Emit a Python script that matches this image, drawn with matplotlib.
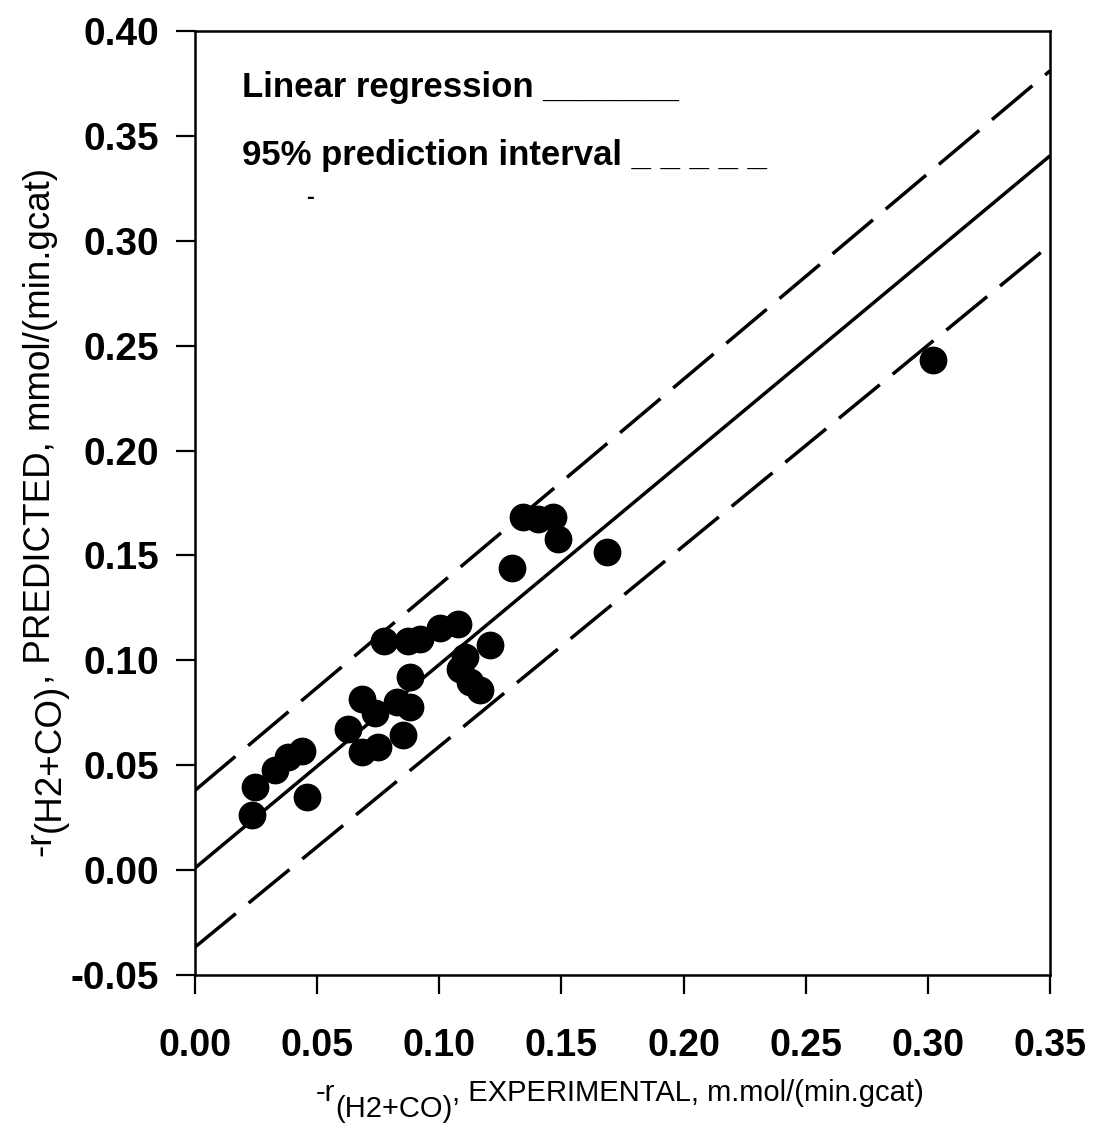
import matplotlib
matplotlib.use("Agg")
import matplotlib.pyplot as plt
import matplotlib.transforms as mtransforms
from matplotlib import font_manager
from matplotlib.font_manager import FontProperties

# Experimental vs predicted syngas consumption rate, mmol/(min.gcat)
experimental = [
    0.0232, 0.0246, 0.0327, 0.0380, 0.0438, 0.0457,
    0.0628, 0.0682, 0.0737, 0.0682, 0.0750, 0.0826, 0.0880, 0.0853,
    0.0774, 0.0873, 0.0921, 0.1003, 0.1078, 0.0880,
    0.1208, 0.1105, 0.1085, 0.1126, 0.1167,
    0.1298, 0.1344, 0.1405, 0.1467, 0.1487, 0.1685,
    0.3020,
]
predicted = [
    0.0262, 0.0397, 0.0477, 0.0540, 0.0567, 0.0349,
    0.0675, 0.0818, 0.0747, 0.0562, 0.0585, 0.0802, 0.0778, 0.0643,
    0.1093, 0.1093, 0.1104, 0.1152, 0.1175, 0.0921,
    0.1072, 0.1017, 0.0961, 0.0898, 0.0858,
    0.1440, 0.1684, 0.1675, 0.1684, 0.1580, 0.1517,
    0.2430,
]

# Fitted line and 95 % prediction band, evaluated at the ends of the x range
fit_x = [0.0, 0.35]
fit_y = [0.001, 0.3405]
band_upper = [0.038, 0.381]
band_lower = [-0.0367, 0.298]

x_ticks = [0.00, 0.05, 0.10, 0.15, 0.20, 0.25, 0.30, 0.35]
y_ticks = [-0.05, 0.00, 0.05, 0.10, 0.15, 0.20, 0.25, 0.30, 0.35, 0.40]
x_tick_labels = [f"{v:.2f}" for v in x_ticks]
y_tick_labels = [f"{v:.2f}" for v in y_ticks]


def pick_family(*names):
    for n in names:
        try:
            font_manager.findfont(FontProperties(family=n),
                                  fallback_to_default=False)
            return n
        except Exception:
            continue
    return "DejaVu Sans"


SANS = pick_family("Liberation Sans", "Arial", "DejaVu Sans")

W, H = 1093, 1131
fig = plt.figure(figsize=(W / 100, H / 100), dpi=100)
ax = fig.add_axes([195 / W, (H - 975) / H, 855 / W, 944 / H])

line_w = 2.5
ax.plot(fit_x, fit_y, color="black", lw=line_w, solid_capstyle="butt")
for band in (band_upper, band_lower):
    ax.plot(fit_x, band, color="black", lw=line_w,
            dashes=(38 / line_w, 12 / line_w), dash_capstyle="butt")
ax.plot(experimental, predicted, "o", color="black", ms=19, mec="black",
        clip_on=False, zorder=3)

ax.set_xlim(0.0, 0.35)
ax.set_ylim(-0.05, 0.40)
ax.set_xticks(x_ticks, x_tick_labels, fontsize=27, fontweight="bold",
              family=SANS)
ax.set_yticks(y_ticks, y_tick_labels, fontsize=28, fontweight="bold",
              family=SANS)
ax.tick_params(axis="both", direction="out", length=14, width=1.6,
               color="black")
ax.tick_params(axis="y", pad=12)
ax.tick_params(axis="x", pad=24)
for sp in ax.spines.values():
    sp.set_linewidth(1.8)

# Legend written as text with underscore rules
ax.text(0.055, 0.930, "Linear regression _______", transform=ax.transAxes,
        fontsize=25, fontweight="bold", family=SANS, va="baseline")
ax.text(0.055, 0.858, "95% prediction interval _ _ _ _ _",
        transform=ax.transAxes, fontsize=25, fontweight="bold", family=SANS,
        va="baseline")
ax.text(0.1345, 0.824, "-", transform=ax.transAxes, fontsize=17,
        fontweight="bold", family=SANS, ha="center", va="center")


def chained_label(pieces, fp, center, base, rotated, drop):
    """Write a label piece by piece; pieces flagged True sit lowered."""
    renderer = fig.canvas.get_renderer()
    pix = mtransforms.IdentityTransform()
    arts = []
    for s, low in pieces:
        t = fig.text(0, 0, s, fontproperties=fp,
                     rotation=90 if rotated else 0, rotation_mode="anchor",
                     ha="left", va="baseline", transform=pix)
        arts.append((t, low))
    lengths = []
    for t, _ in arts:
        bb = t.get_window_extent(renderer)
        lengths.append(bb.height if rotated else bb.width)
    pos = center - sum(lengths) / 2
    for (t, low), L in zip(arts, lengths):
        off = drop if low else 0
        if rotated:
            t.set_position((base + off, pos))
        else:
            t.set_position((pos, base - off))
        pos += L


chained_label([("-r", False), ("(H2+CO)", True),
               (", EXPERIMENTAL, m.mol/(min.gcat)", False)],
              FontProperties(family=SANS, size=21), center=620,
              base=H - 1101, rotated=False, drop=16)
chained_label([("-r", False), ("(H2+CO)", True),
               (", PREDICTED, mmol/(min.gcat)", False)],
              FontProperties(family=SANS, size=26.5), center=H - 512,
              base=50, rotated=True, drop=10)

fig.savefig("out.png", dpi=100, facecolor="white")
